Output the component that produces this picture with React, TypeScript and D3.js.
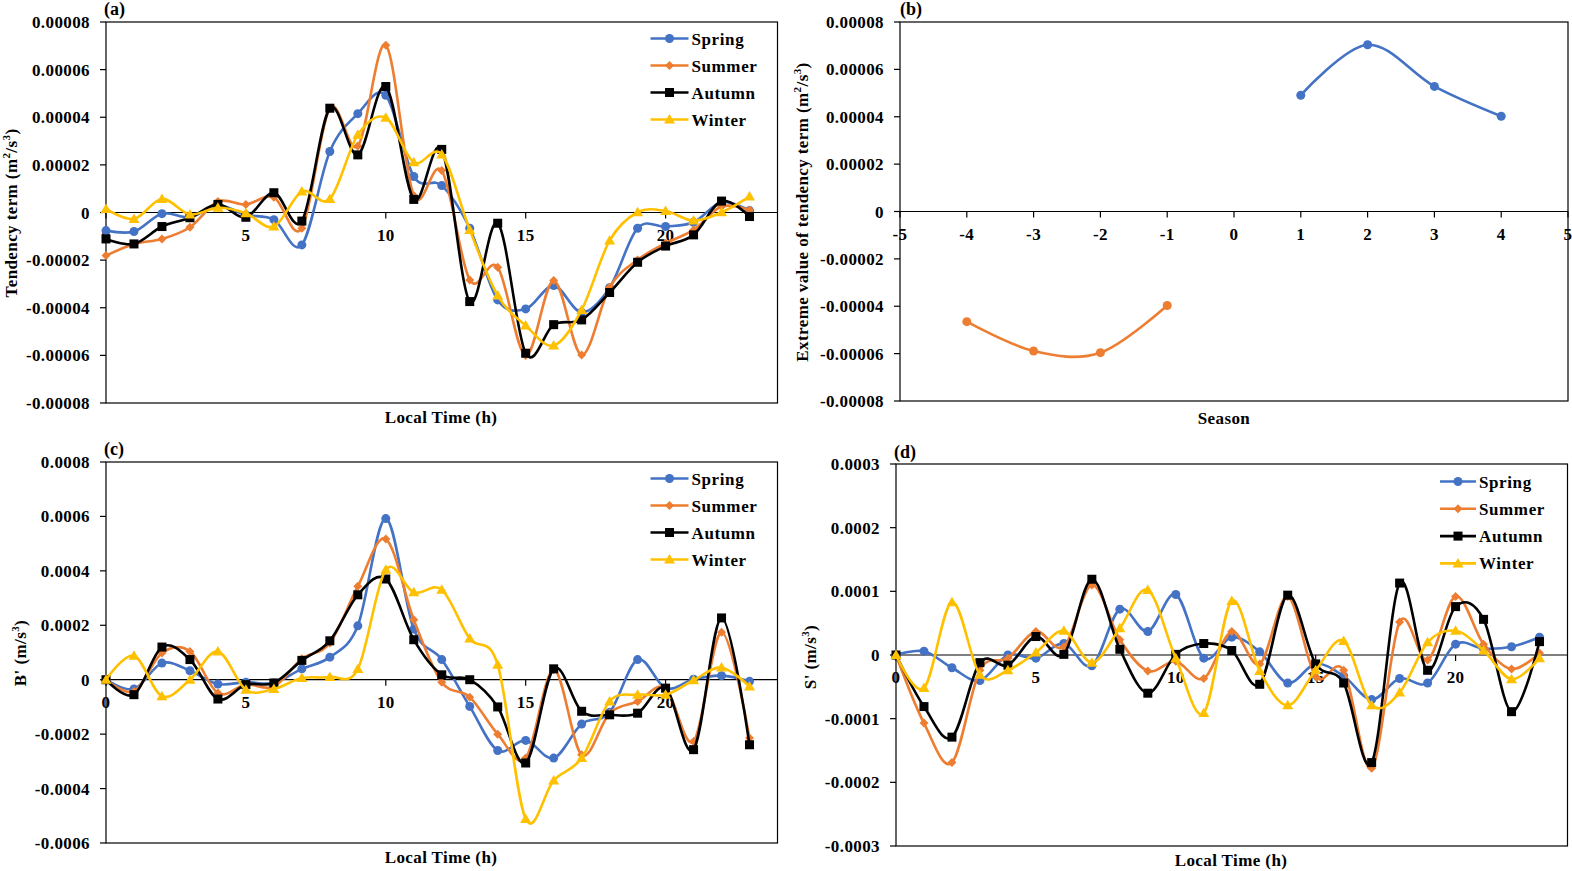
import React from 'react';
import * as d3 from 'd3';

const FONT = "'Liberation Serif', 'Times New Roman', serif";

// ---------- data ----------
const hours = [0, 1, 2, 3, 4, 5, 6, 7, 8, 9, 10, 11, 12, 13, 14, 15, 16, 17, 18, 19, 20, 21, 22, 23];
const seasonNames = ['Spring', 'Summer', 'Autumn', 'Winter'];

// (a) tendency term, units 1e-6 m2/s3
const aSpring = [-7.6, -8.0, -0.5, -2.0, 3.0, -1.0, -3.0, -13.6, 25.6, 41.5, 49.2, 15.1, 11.3, -6.6, -36.7, -40.5, -30.7, -41.9, -31.6, -6.6, -5.9, -4.1, 4.3, 0.8];
const aSummer = [-18.1, -13.2, -11.1, -6.2, 4.6, 3.4, 6.4, -6.6, 43.8, 27.9, 70.2, 7.1, 17.6, -28.3, -23.0, -60.0, -28.6, -59.8, -31.4, -19.9, -12.9, -7.3, 2.5, 1.1];
const aAutumn = [-11.1, -13.2, -5.9, -2.2, 3.4, -2.0, 8.3, -3.6, 43.8, 24.2, 52.9, 5.5, 26.5, -37.4, -4.5, -59.1, -47.1, -45.1, -33.6, -20.9, -14.1, -9.4, 4.8, -1.7];
const aWinter = [1.5, -2.7, 5.7, -0.8, 2.0, -0.3, -5.9, 8.8, 5.7, 32.6, 39.8, 21.1, 24.4, -7.3, -34.9, -47.5, -55.9, -40.9, -11.8, 0.1, 0.6, -3.4, 0.1, 6.7];
const aYTicks = [0.00008, 0.00006, 0.00004, 0.00002, 0, -0.00002, -0.00004, -0.00006, -0.00008];
const aYTickLabels = ['0.00008', '0.00006', '0.00004', '0.00002', '0', '-0.00002', '-0.00004', '-0.00006', '-0.00008'];

// (b) extreme values, units 1e-6
const bSeasonPos = [1, 2, 3, 4];
const bMax = [49.1, 70.4, 52.8, 40.2];
const bSeasonNeg = [-4, -3, -2, -1];
const bMin = [-46.5, -58.9, -59.6, -39.7];
const bXTicks = [-5, -4, -3, -2, -1, 0, 1, 2, 3, 4, 5];

// (c) B', units 1e-4
const cSpring = [0, -0.34, 0.61, 0.33, -0.16, -0.09, -0.12, 0.40, 0.83, 1.98, 5.92, 1.86, 0.74, -0.98, -2.6, -2.23, -2.88, -1.63, -1.2, 0.74, -0.31, 0.02, 0.15, -0.06];
const cSummer = [0, -0.43, 0.98, 1.04, -0.49, -0.18, -0.25, 0.77, 1.35, 3.43, 5.17, 2.2, -0.09, -0.64, -2.0, -2.88, 0.37, -2.76, -1.23, -0.8, -0.31, -2.27, 1.74, -2.14];
const cAutumn = [0, -0.55, 1.2, 0.74, -0.71, -0.18, -0.12, 0.71, 1.43, 3.12, 3.70, 1.47, 0.18, 0, -1.0, -3.06, 0.40, -1.16, -1.29, -1.23, -0.31, -2.57, 2.27, -2.39];
const cWinter = [0, 0.88, -0.61, 0, 1.04, -0.37, -0.34, 0.06, 0.1, 0.39, 4.04, 3.21, 3.31, 1.51, 0.55, -5.12, -3.70, -2.88, -0.8, -0.55, -0.55, -0.02, 0.45, -0.25];
const cYTicks = [0.0008, 0.0006, 0.0004, 0.0002, 0, -0.0002, -0.0004, -0.0006];
const cYTickLabels = ['0.0008', '0.0006', '0.0004', '0.0002', '0', '-0.0002', '-0.0004', '-0.0006'];

// (d) S', units 1e-4
const dSpring = [0, 0.06, -0.2, -0.4, 0, -0.05, 0.18, -0.17, 0.72, 0.37, 0.95, -0.05, 0.28, 0.05, -0.44, -0.14, -0.33, -0.7, -0.37, -0.44, 0.17, 0.1, 0.13, 0.28];
const dSummer = [0, -1.07, -1.69, -0.24, -0.05, 0.37, 0.13, 1.1, 0.24, -0.25, -0.1, -0.37, 0.37, -0.14, 0.92, -0.34, -0.24, -1.78, 0.52, -0.08, 0.92, 0.17, -0.22, 0.03];
const dAutumn = [0, -0.81, -1.29, -0.12, -0.16, 0.29, 0.01, 1.19, 0.09, -0.6, 0.01, 0.18, 0.07, -0.46, 0.94, -0.14, -0.44, -1.69, 1.13, -0.24, 0.76, 0.56, -0.89, 0.21];
const dWinter = [0, -0.52, 0.83, -0.31, -0.24, 0.04, 0.38, -0.12, 0.42, 1.02, -0.05, -0.91, 0.85, -0.25, -0.79, -0.24, 0.22, -0.79, -0.59, 0.2, 0.38, 0.07, -0.38, -0.05];
const dYTicks = [0.0003, 0.0002, 0.0001, 0, -0.0001, -0.0002, -0.0003];
const dYTickLabels = ['0.0003', '0.0002', '0.0001', '0', '-0.0001', '-0.0002', '-0.0003'];

const hourTicks = [0, 5, 10, 15, 20];

const COLORS = ['#4472C4', '#ED7D31', '#000000', '#FFC000'];
const MARKERS = ['circle', 'diamond', 'square', 'triangle'];

// ---------- components ----------
function Marker({ kind, x, y, color }: { kind: string; x: number; y: number; color: string }) {
  if (kind === 'circle') return <circle cx={x} cy={y} r={4.5} fill={color} />;
  if (kind === 'diamond') return <path d={`M${x},${y - 4.5}L${x + 4.5},${y}L${x},${y + 4.5}L${x - 4.5},${y}Z`} fill={color} />;
  if (kind === 'square') return <rect x={x - 4.5} y={y - 4.5} width={9} height={9} fill={color} />;
  return <path d={`M${x},${y - 5.5}L${x + 5.5},${y + 4}L${x - 5.5},${y + 4}Z`} fill={color} />;
}

type Series = { xs: number[]; ys: number[]; color: string; marker: string; name?: string };

type PanelProps = {
  x0: number; x1: number; y0: number; y1: number;
  xDomain: [number, number]; xTicks: number[];
  yDomain: [number, number]; yTicks: number[]; yTickLabels: string[];
  series: Series[];
  legend?: { x: number; y: number; dy: number; len: number };
};

function Panel(p: PanelProps) {
  const x = d3.scaleLinear().domain(p.xDomain).range([p.x0, p.x1]);
  const y = d3.scaleLinear().domain(p.yDomain).range([p.y1, p.y0]);
  const line = d3.line<[number, number]>()
    .x((d) => x(d[0]))
    .y((d) => y(d[1]))
    .curve(d3.curveCardinal.tension(0));
  const zy = y(0);
  return (
    <g>
      <rect x={p.x0} y={p.y0} width={p.x1 - p.x0} height={p.y1 - p.y0} fill="none" stroke="#000" strokeWidth={1.2} />
      {p.yTicks.map((t, i) => (
        <g key={'yt' + i}>
          <line x1={p.x0 - 6} x2={p.x0} y1={y(t)} y2={y(t)} stroke="#000" strokeWidth={1.2} />
          <text x={p.x0 - 16} y={y(t) + 6} textAnchor="end" fontSize={17} fontWeight="bold" fontFamily={FONT} letterSpacing={0.4}>
            {p.yTickLabels[i]}
          </text>
        </g>
      ))}
      <line x1={p.x0} x2={p.x1} y1={zy} y2={zy} stroke="#000" strokeWidth={1.2} />
      {p.xTicks.map((t, i) => (
        <g key={'xt' + i}>
          <line x1={x(t)} x2={x(t)} y1={zy} y2={zy + 6} stroke="#000" strokeWidth={1.2} />
          <text x={x(t)} y={zy + 28} textAnchor="middle" fontSize={17} fontWeight="bold" fontFamily={FONT} letterSpacing={0.4}>
            {String(t)}
          </text>
        </g>
      ))}
      {p.series.map((s, si) => {
        const pts: [number, number][] = s.xs.map((xv, i) => [xv, s.ys[i]]);
        return (
          <g key={'s' + si}>
            <path d={line(pts) || ''} fill="none" stroke={s.color} strokeWidth={2.6} strokeLinejoin="round" />
            {pts.map((d, i) => (
              <Marker key={i} kind={s.marker} x={x(d[0])} y={y(d[1])} color={s.color} />
            ))}
          </g>
        );
      })}
      {p.legend && p.series.map((s, si) => {
        const ly = p.legend!.y + si * p.legend!.dy;
        const lx = p.legend!.x;
        const len = p.legend!.len;
        return (
          <g key={'lg' + si}>
            <line x1={lx} x2={lx + len} y1={ly} y2={ly} stroke={s.color} strokeWidth={2.6} />
            <Marker kind={s.marker} x={lx + len / 2} y={ly} color={s.color} />
            <text x={lx + len + 3} y={ly + 6} fontSize={17} fontWeight="bold" fontFamily={FONT} letterSpacing={0.6}>
              {s.name}
            </text>
          </g>
        );
      })}
    </g>
  );
}

function YLabel({ x, y, main, unit, sup1, mid, sup2 }: { x: number; y: number; main: string; unit: string; sup1?: string; mid: string; sup2: string }) {
  return (
    <text transform={`translate(${x},${y}) rotate(-90)`} y={6} textAnchor="middle" fontSize={17} fontWeight="bold" fontFamily={FONT} letterSpacing={0.4}>
      <tspan>{main + ' (' + unit}</tspan>
      {sup1 ? <tspan dy={-7} fontSize={11}>{sup1}</tspan> : null}
      <tspan dy={sup1 ? 7 : 0}>{mid}</tspan>
      <tspan dy={-7} fontSize={11}>{sup2}</tspan>
      <tspan dy={7}>)</tspan>
    </text>
  );
}

function makeSeries(list: number[][], scale: number): Series[] {
  return list.map((vals, i) => ({
    xs: hours,
    ys: vals.map((v) => v * scale),
    color: COLORS[i],
    marker: MARKERS[i],
    name: seasonNames[i],
  }));
}

export default function App() {
  const txt = { fontSize: 17, fontWeight: 'bold' as const, fontFamily: FONT, letterSpacing: 0.4 };
  return (
    <div style={{ position: 'absolute', left: 0, top: 0 }}>
      <svg width={1572} height={871} style={{ display: 'block', background: '#fff' }}>
        {/* (a) */}
        <Panel
          x0={106} x1={777.5} y0={22} y1={403}
          xDomain={[0, 24]} xTicks={hourTicks}
          yDomain={[-0.00008, 0.00008]} yTicks={aYTicks} yTickLabels={aYTickLabels}
          series={makeSeries([aSpring, aSummer, aAutumn, aWinter], 1e-6)}
          legend={{ x: 650.5, y: 38.5, dy: 27, len: 38 }}
        />
        <text x={104} y={15} fontSize={18} fontWeight="bold" fontFamily={FONT}>(a)</text>
        <YLabel x={11} y={213} main="Tendency term" unit="m" sup1="2" mid="/s" sup2="3" />
        <text x={441} y={423} textAnchor="middle" {...txt}>Local Time (h)</text>

        {/* (b) */}
        <Panel
          x0={900} x1={1568} y0={22} y1={401}
          xDomain={[-5, 5]} xTicks={bXTicks}
          yDomain={[-0.00008, 0.00008]} yTicks={aYTicks} yTickLabels={aYTickLabels}
          series={[
            { xs: bSeasonPos, ys: bMax.map((v) => v * 1e-6), color: COLORS[0], marker: 'circle' },
            { xs: bSeasonNeg, ys: bMin.map((v) => v * 1e-6), color: COLORS[1], marker: 'circle' },
          ]}
        />
        <text x={900} y={15} fontSize={18} fontWeight="bold" fontFamily={FONT}>(b)</text>
        <YLabel x={802} y={212} main="Extreme value of tendency term" unit="m" sup1="2" mid="/s" sup2="3" />
        <text x={1224} y={424} textAnchor="middle" {...txt}>Season</text>

        {/* (c) */}
        <Panel
          x0={106} x1={777.5} y0={462} y1={843}
          xDomain={[0, 24]} xTicks={hourTicks}
          yDomain={[-0.0006, 0.0008]} yTicks={cYTicks} yTickLabels={cYTickLabels}
          series={makeSeries([cSpring, cSummer, cAutumn, cWinter], 1e-4)}
          legend={{ x: 650.5, y: 478.5, dy: 27, len: 38 }}
        />
        <text x={104} y={455} fontSize={18} fontWeight="bold" fontFamily={FONT}>(c)</text>
        <YLabel x={20} y={653} main="B'" unit="m" mid="/s" sup2="3" />
        <text x={441} y={863} textAnchor="middle" {...txt}>Local Time (h)</text>

        {/* (d) */}
        <Panel
          x0={896} x1={1567.5} y0={464} y1={846}
          xDomain={[0, 24]} xTicks={hourTicks}
          yDomain={[-0.0003, 0.0003]} yTicks={dYTicks} yTickLabels={dYTickLabels}
          series={makeSeries([dSpring, dSummer, dAutumn, dWinter], 1e-4)}
          legend={{ x: 1440, y: 481.5, dy: 27.3, len: 36 }}
        />
        <text x={894} y={458} fontSize={18} fontWeight="bold" fontFamily={FONT}>(d)</text>
        <YLabel x={810} y={657} main="S'" unit="m" mid="/s" sup2="3" />
        <text x={1231} y={866} textAnchor="middle" {...txt}>Local Time (h)</text>
      </svg>
    </div>
  );
}
